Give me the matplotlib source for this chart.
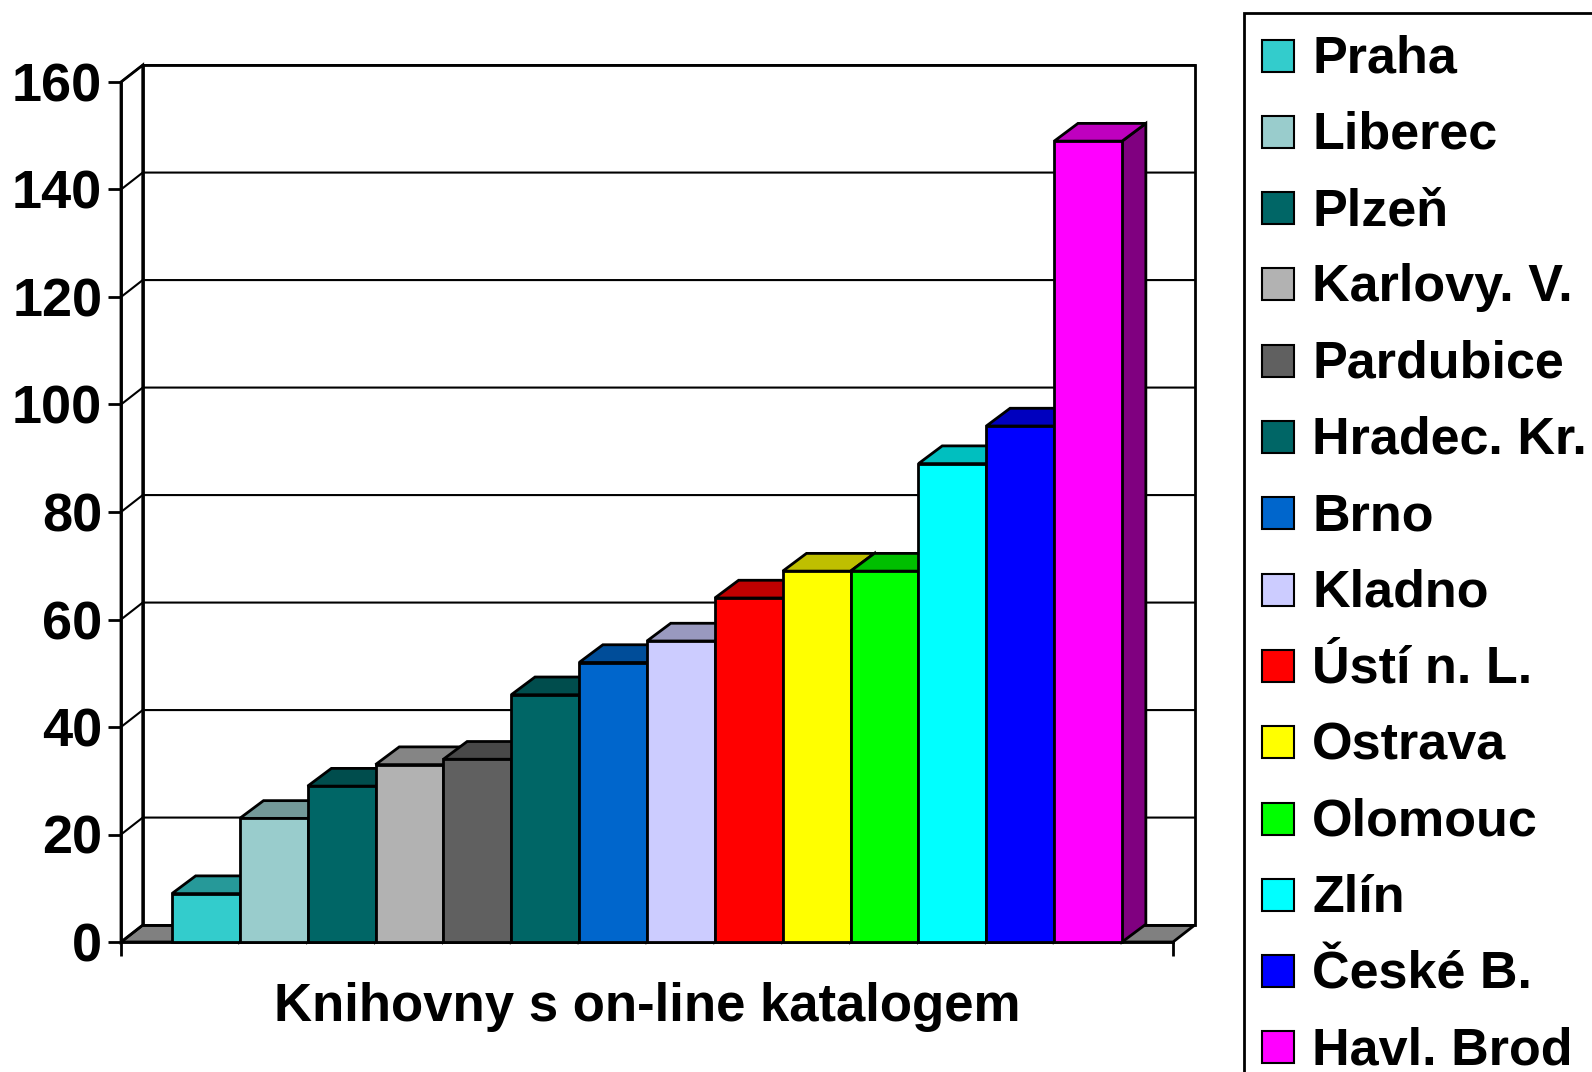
import matplotlib
matplotlib.use("Agg")
import matplotlib.pyplot as plt
from matplotlib.patches import Polygon, Rectangle
from matplotlib.colors import to_rgb

plt.rcParams['font.family'] = ['Liberation Sans', 'DejaVu Sans']
plt.rcParams['font.weight'] = 'bold'

# data
cities = ["Praha", "Liberec", "Plzeň", "Karlovy. V.", "Pardubice", "Hradec. Kr.",
          "Brno", "Kladno", "Ústí n. L.", "Ostrava", "Olomouc", "Zlín",
          "České B.", "Havl. Brod"]
counts = [9, 23, 29, 33, 34, 46, 52, 56, 64, 69, 69, 89, 96, 149]
colors = ["#33CCCC", "#99CCCC", "#006666", "#B2B2B2", "#606060", "#006666",
          "#0066CC", "#CCCCFF", "#FF0000", "#FFFF00", "#00FF00", "#00FFFF",
          "#0000FF", "#FF00FF"]
yticks = [0, 20, 40, 60, 80, 100, 120, 140, 160]
xlabel = "Knihovny s on-line katalogem"

# 3d look: depth offsets in data units
WALL_DX, WALL_DY = 0.32, 3.15
BAR_DX, BAR_DY = 0.35, 3.3
LW = 1.5
EDGE = 2.0


def shade(c, f):
    r, g, b = to_rgb(c)
    return (r * f, g * f, b * f)


fig = plt.figure(figsize=(15.92, 10.72), dpi=100)
W, H = 1592, 1072
ax = fig.add_axes([121 / W, (H - 942) / H, (1173 - 121) / W, (942 - 82) / H])
ax.patch.set_visible(False)

xmin, xmax = -1.25, len(counts) - 0.5 + 0.75
ymax = yticks[-1]
ax.set_xlim(xmin, xmax)
ax.set_ylim(0, ymax)

# floor
floor = Polygon([(xmin, 0), (xmax, 0), (xmax + WALL_DX, WALL_DY), (xmin + WALL_DX, WALL_DY)],
                closed=True, facecolor="#808080", edgecolor="black", lw=EDGE, clip_on=False, zorder=1)
ax.add_patch(floor)
# back wall and left wall
ax.add_patch(Rectangle((xmin + WALL_DX, WALL_DY), xmax - xmin, ymax, facecolor="white",
                       edgecolor="black", lw=EDGE, clip_on=False, zorder=1))
ax.add_patch(Polygon([(xmin, 0), (xmin + WALL_DX, WALL_DY), (xmin + WALL_DX, ymax + WALL_DY), (xmin, ymax)],
                     closed=True, facecolor="white", edgecolor="black", lw=EDGE, clip_on=False, zorder=1))
# gridlines
for t in yticks:
    ax.plot([xmin, xmin + WALL_DX, xmax + WALL_DX], [t, t + WALL_DY, t + WALL_DY],
            color="black", lw=LW, clip_on=False, zorder=1.5)

# bars
for i, (v, c) in enumerate(zip(counts, colors)):
    x0, x1 = i - 0.5, i + 0.5
    z = 3 + i * 0.01
    side = Polygon([(x1, 0), (x1 + BAR_DX, BAR_DY), (x1 + BAR_DX, v + BAR_DY), (x1, v)],
                   closed=True, facecolor=shade(c, 0.5), edgecolor="black", lw=EDGE,
                   clip_on=False, zorder=z)
    top = Polygon([(x0, v), (x1, v), (x1 + BAR_DX, v + BAR_DY), (x0 + BAR_DX, v + BAR_DY)],
                  closed=True, facecolor=shade(c, 0.75), edgecolor="black", lw=EDGE,
                  clip_on=False, zorder=z)
    front = Rectangle((x0, 0), 1, v, facecolor=c, edgecolor="black", lw=EDGE,
                      clip_on=False, zorder=z)
    ax.add_patch(side)
    ax.add_patch(top)
    ax.add_patch(front)

# axes
for s in ["top", "right"]:
    ax.spines[s].set_visible(False)
for s in ["left", "bottom"]:
    ax.spines[s].set_linewidth(EDGE)
ax.set_yticks(yticks)
ax.set_yticklabels([str(t) for t in yticks])
ax.tick_params(axis="y", length=9.5, width=EDGE, pad=4, labelsize=39)
ax.set_xticks([xmin, xmax])
ax.set_xticklabels(["", ""])
ax.tick_params(axis="x", length=10, width=EDGE)
ax.set_xlabel(xlabel, fontsize=38, fontweight="bold")
ax.xaxis.set_label_coords(0.5, -0.046)

# legend drawn in pixel space
lg = fig.add_axes([0, 0, 1, 1])
lg.set_xlim(0, W)
lg.set_ylim(H, 0)
lg.axis("off")
lg.add_patch(Rectangle((1244, 13), 500, 1200, facecolor="white", edgecolor="black", lw=EDGE))
for i, (name, c) in enumerate(zip(cities, colors)):
    yc = 55.5 + i * 76.3
    lg.add_patch(Rectangle((1262, yc - 16), 32, 32, facecolor=c, edgecolor="black", lw=1.5))
    lg.text(1312, yc + 17, name, fontsize=37.5, fontweight="bold", va="baseline", ha="left")

fig.savefig("out.png", dpi=100)
